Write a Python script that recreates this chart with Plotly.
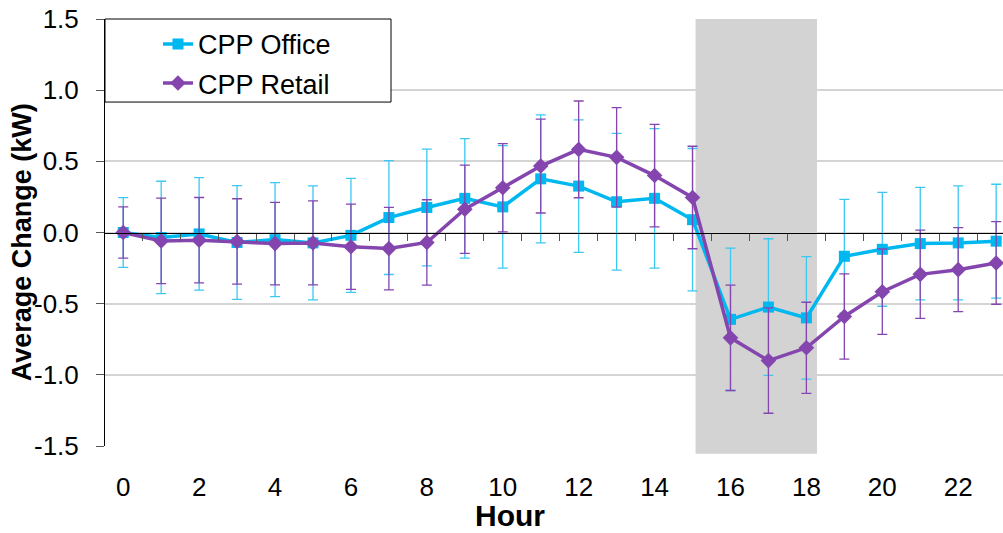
import plotly.graph_objects as go

hours = list(range(24))
office = [0.0, -0.035, -0.01, -0.07, -0.05, -0.073, -0.02, 0.105, 0.176, 0.24, 0.18, 0.377,
          0.326, 0.216, 0.24, 0.09, -0.61, -0.524, -0.60, -0.167, -0.118, -0.078, -0.073, -0.061]
office_err = [0.245, 0.395, 0.395, 0.40, 0.40, 0.40, 0.40, 0.40, 0.41, 0.42, 0.43, 0.45,
              0.465, 0.48, 0.49, 0.50, 0.50, 0.48, 0.43, 0.40, 0.40, 0.395, 0.40, 0.40]
retail = [0.0, -0.059, -0.054, -0.063, -0.078, -0.073, -0.10, -0.113, -0.07, 0.164, 0.314, 0.467,
          0.584, 0.528, 0.40, 0.246, -0.74, -0.90, -0.81, -0.59, -0.416, -0.294, -0.261, -0.214]
retail_err = [0.18, 0.30, 0.30, 0.30, 0.29, 0.295, 0.30, 0.29, 0.30, 0.31, 0.31, 0.33,
              0.34, 0.35, 0.36, 0.36, 0.37, 0.37, 0.32, 0.30, 0.30, 0.31, 0.295, 0.29]
peak_window = [15.08, 18.28]
x_ticks = list(range(0, 24, 2))
y_ticks = [-1.5, -1.0, -0.5, 0.0, 0.5, 1.0, 1.5]
y_ticktext = ["-1.5", "-1.0", "-0.5", "0.0", "0.5", "1.0", "1.5"]
half_hours = [h + 0.5 for h in range(-1, 24)]

CYAN = "#00B8F0"
PURPLE = "#8446AE"
FONT = "Liberation Sans, Arial, sans-serif"

fig = go.Figure()

fig.add_trace(go.Scatter(
    x=hours, y=office, name="CPP Office", mode="lines+markers",
    line=dict(color=CYAN, width=3.5),
    marker=dict(symbol="square", size=11, color=CYAN),
    error_y=dict(type="data", array=office_err, visible=True, color="#3CC8F2",
                 thickness=1.3, width=5),
    legendgroup="a",
))
fig.add_trace(go.Scatter(
    x=hours, y=retail, name="CPP Retail", mode="lines+markers",
    line=dict(color=PURPLE, width=3.5),
    marker=dict(symbol="diamond", size=12, color=PURPLE),
    error_y=dict(type="data", array=retail_err, visible=True, color=PURPLE,
                 thickness=1.3, width=5),
    legendgroup="b",
))
# helper trace so the zero-line axis gets drawn
fig.add_trace(go.Scatter(x=[0], y=[0], xaxis="x2", mode="markers",
                         marker=dict(opacity=0), showlegend=False, hoverinfo="skip"))

fig.add_shape(type="rect", xref="x", yref="paper", x0=peak_window[0], x1=peak_window[1],
              y0=-0.018, y1=1, fillcolor="#D3D3D3", line=dict(width=0), layer="below")
# legend frame
fig.add_shape(type="rect", xref="paper", yref="paper", x0=0, x1=0.3185, y0=0.8055, y1=1,
              fillcolor="white", line=dict(color="black", width=1), layer="above")

fig.add_annotation(text="<b>Hour</b>", xref="paper", yref="paper", x=0.451, y=-0.1635,
                   xanchor="center", yanchor="middle", showarrow=False,
                   font=dict(size=30, family=FONT, color="black"))
fig.add_annotation(text="<b>Average Change (kW)</b>", xref="paper", yref="paper",
                   x=-0.0924, y=0.477, xanchor="center", yanchor="middle", textangle=-90,
                   showarrow=False, font=dict(size=27, family=FONT, color="black"))

xr = [-0.48, 23.18]
fig.update_layout(
    width=1003, height=533,
    margin=dict(l=105, r=0, t=19, b=87),
    paper_bgcolor="white", plot_bgcolor="white",
    font=dict(family=FONT, color="black"),
    showlegend=True,
    legend=dict(x=0.059, y=0.998, xanchor="left", yanchor="top",
                bgcolor="rgba(0,0,0,0)", borderwidth=0,
                font=dict(size=27, family=FONT), tracegroupgap=1),
    xaxis=dict(range=xr, tickvals=x_ticks, ticks="outside", ticklen=18,
               tickcolor="rgba(0,0,0,0)", showgrid=False, zeroline=False, showline=False,
               automargin=False,
               tickfont=dict(size=26, family=FONT)),
    xaxis2=dict(range=xr, overlaying="x", anchor="free", position=0.5, side="bottom",
                tickvals=half_hours, ticks="outside", ticklen=7, tickcolor="#555555",
                showticklabels=False, showgrid=False, zeroline=False, automargin=False,
                showline=True, linecolor="black", linewidth=1),
    yaxis=dict(range=[-1.5, 1.5], tickvals=y_ticks, ticktext=y_ticktext,
               ticks="outside", ticklen=8, tickcolor="#555555",
               showline=True, linecolor="black", linewidth=1,
               showgrid=True, gridcolor="#D4D4D4", gridwidth=1.5, zeroline=False,
               ticklabelstandoff=12, automargin=False, ticklabeloverflow="allow",
               tickfont=dict(size=26, family=FONT)),
)

fig.write_html("out.html", config={"displayModeBar": False},
               post_script="document.body.style.margin='0';")
